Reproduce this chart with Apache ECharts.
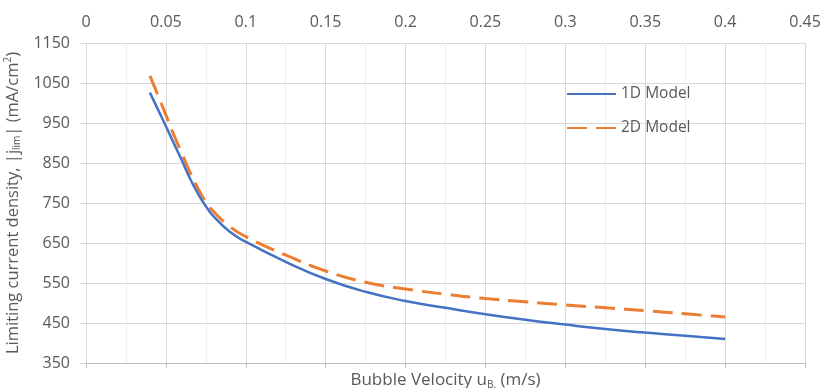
<!DOCTYPE html>
<html>
<head>
<meta charset="utf-8">
<script src="https://cdn.jsdelivr.net/npm/echarts@6/dist/echarts.min.js"></script>
<style>html,body{margin:0;padding:0;background:#fff}#c{width:822px;height:388px}</style>
</head>
<body>
<div id="c"></div>
<script>
// x values (bubble velocity, m/s) and limiting current density (mA/cm2)
const x1D = [0.04, 0.045, 0.05, 0.055, 0.06, 0.065, 0.07, 0.075, 0.08, 0.09, 0.1, 0.125, 0.15, 0.175, 0.2, 0.225, 0.25, 0.275, 0.3, 0.325, 0.35, 0.375, 0.4];
const y1D = [1026, 984, 942, 899, 856, 812, 774, 742, 716, 678, 653, 603, 560, 528, 505, 488, 472, 458, 446, 435, 426, 418, 410];
const x2D = [0.04, 0.045, 0.05, 0.055, 0.06, 0.065, 0.07, 0.075, 0.08, 0.09, 0.1, 0.125, 0.15, 0.175, 0.2, 0.225, 0.25, 0.275, 0.3, 0.325, 0.35, 0.375, 0.4];
const y2D = [1068, 1020, 970, 920, 874, 828, 787, 753, 728, 691, 666, 620, 580, 552, 535, 522, 511, 503, 495, 488, 481, 473, 465];
const xTicks = [0, 0.05, 0.1, 0.15, 0.2, 0.25, 0.3, 0.35, 0.4, 0.45];
const yTicks = [350, 450, 550, 650, 750, 850, 950, 1050, 1150];
const seriesNames = ['1D Model', '2D Model'];

const FONT = 'Open Sans';
const TXT = '#595959';
const GRID = '#d9d9d9';

const chart = echarts.init(document.getElementById('c'));
const pairs = (xs, ys) => xs.map((x, i) => [x, ys[i]]);

chart.setOption({
  animation: false,
  grid: { left: 86, right: 17, top: 43, bottom: 25, containLabel: false, outerBoundsMode: 'none' },
  legend: {
    orient: 'vertical',
    left: 561, top: 81,
    itemWidth: 49, itemHeight: 14, itemGap: 18,
    itemStyle: { opacity: 0 },
    textStyle: { fontFamily: FONT, fontSize: 15.5, color: TXT },
    data: seriesNames
  },
  xAxis: [
    {
      type: 'value', position: 'top', min: xTicks[0], max: xTicks[xTicks.length - 1], interval: 0.05,
      axisLine: { show: false }, axisTick: { show: false },
      axisLabel: { fontFamily: FONT, fontSize: 16, color: TXT, margin: 13, formatter: v => String(v) },
      splitLine: { show: true, lineStyle: { color: GRID, width: 1 } },
      minorTick: { show: false, splitNumber: 2 },
      minorSplitLine: { show: true, lineStyle: { color: '#eeeeee', width: 1 } }
    },
    {
      type: 'value', position: 'bottom', min: xTicks[0], max: xTicks[xTicks.length - 1], interval: 0.05,
      axisLine: { show: true, onZero: false, lineStyle: { color: '#bfbfbf', width: 1 } },
      axisTick: { show: true, length: 5, lineStyle: { color: '#bfbfbf' } },
      axisLabel: { show: false },
      splitLine: { show: false },
      name: 'Bubble Velocity u{sub|B.} (m/s)',
      nameLocation: 'middle', nameGap: 8,
      nameTextStyle: {
        fontFamily: FONT, fontSize: 17, color: TXT, verticalAlign: 'top', lineHeight: 19,
        rich: { sub: { fontFamily: FONT, fontSize: 10, color: TXT, lineHeight: 10, verticalAlign: 'bottom' } }
      }
    }
  ],
  yAxis: {
    type: 'value', min: yTicks[0], max: yTicks[yTicks.length - 1],
    axisLine: { show: false },
    axisTick: { show: true, length: 6, customValues: yTicks, lineStyle: { color: GRID } },
    axisLabel: { fontFamily: FONT, fontSize: 16, color: TXT, margin: 16, customValues: yTicks, formatter: v => String(v) },
    splitLine: { show: true, lineStyle: { color: GRID, width: 1 } },
    name: 'Limiting current density, |j{sub|lim}| (mA/cm{sup|2})',
    nameLocation: 'middle', nameRotate: 90, nameGap: 59,
    nameTextStyle: {
      fontFamily: FONT, fontSize: 16.5, color: TXT, lineHeight: 19,
      rich: {
        sub: { fontFamily: FONT, fontSize: 10, color: TXT, lineHeight: 10, verticalAlign: 'bottom' },
        sup: { fontFamily: FONT, fontSize: 10, color: TXT, lineHeight: 10, verticalAlign: 'top' }
      }
    }
  },
  series: [
    {
      name: seriesNames[0], type: 'line', xAxisIndex: 0, smooth: true, symbol: 'none',
      lineStyle: { color: '#4472C4', width: 2.5 }, itemStyle: { color: '#4472C4' },
      data: pairs(x1D, y1D), z: 3
    },
    {
      name: seriesNames[1], type: 'line', xAxisIndex: 0, smooth: true, symbol: 'none',
      lineStyle: { color: '#ED7D31', width: 3, type: [20, 9] }, itemStyle: { color: '#ED7D31' },
      data: pairs(x2D, y2D), z: 2
    }
  ]
});
</script>
</body>
</html>
